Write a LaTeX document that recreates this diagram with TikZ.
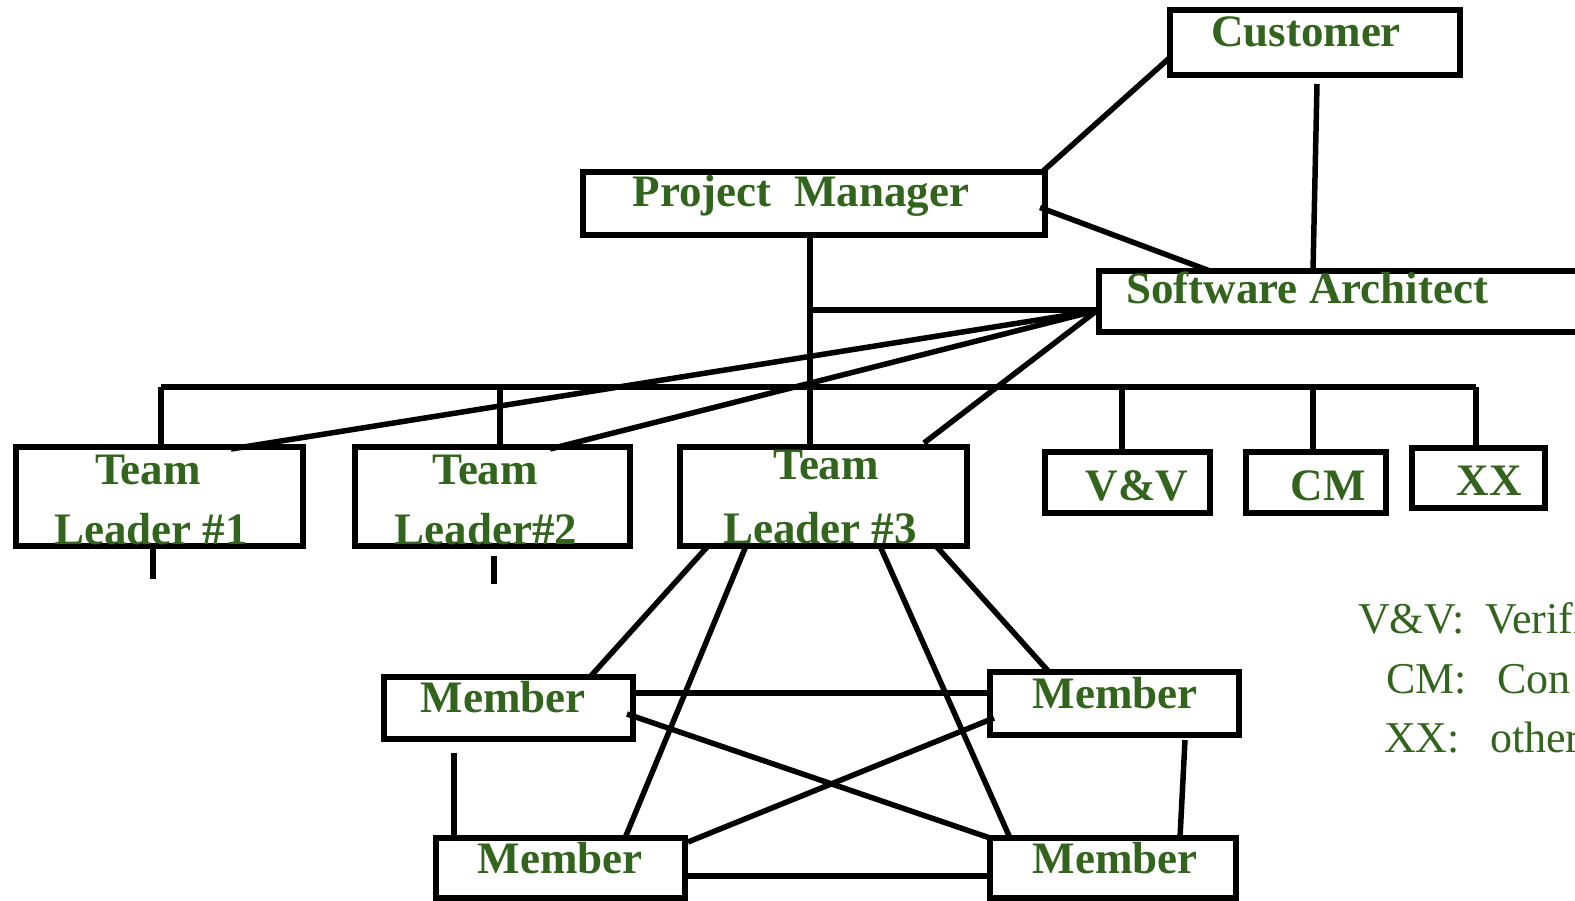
\documentclass[tikz,border=0pt]{standalone}
\usepackage{fontspec}
\setmainfont{Liberation Serif}
\usetikzlibrary{calc}
\definecolor{labelgreen}{RGB}{50,100,30}
\begin{document}
\begin{tikzpicture}[x=1pt,y=-1pt,
  box/.style={rectangle, draw=black, line width=6.5pt, fill=white, inner sep=0pt, outer sep=0pt},
  link/.style={draw=black, line width=5.5pt},
  title/.style={anchor=base, text=labelgreen, inner sep=0pt,
    font=\fontsize{45}{50}\selectfont\bfseries},
  legend/.style={anchor=base, text=labelgreen, inner sep=0pt,
    font=\fontsize{44}{50}\selectfont}]
\useasboundingbox (0,0) rectangle (1575,901);
\clip (0,0) rectangle (1575,901);

% boxes
\node[box, minimum width=290pt, minimum height=65pt] (cust) at (1315,42.5) {};
\node[box, minimum width=462pt, minimum height=63pt] (pm)   at (814,203.5) {};
\node[box, minimum width=521pt, minimum height=61pt] (sa)   at (1359.5,301.5) {};
\node[box, minimum width=287pt, minimum height=99pt] (tl1)  at (159.5,496.5) {};
\node[box, minimum width=275pt, minimum height=99pt] (tl2)  at (492.5,496.5) {};
\node[box, minimum width=287pt, minimum height=99pt] (tl3)  at (823.5,496.5) {};
\node[box, minimum width=165pt, minimum height=61pt] (vv)   at (1127.5,482.5) {};
\node[box, minimum width=140pt, minimum height=61pt] (cm)   at (1316,482.5) {};
\node[box, minimum width=133pt, minimum height=60pt] (xx)   at (1478.5,478) {};
\node[box, minimum width=249pt, minimum height=62pt] (m1)   at (508.5,708) {};
\node[box, minimum width=249pt, minimum height=63pt] (m2)   at (1114.5,703.5) {};
\node[box, minimum width=249pt, minimum height=60pt] (m3)   at (560.5,868) {};
\node[box, minimum width=246pt, minimum height=60pt] (m4)   at (1113,868) {};

% reporting lines at the top
\draw[link] ($(cust.west)+(0,15)$) -- ($(pm.north east)+(-3,0)$);
\draw[link] ($(cust.south)+(2,9)$) -- ($(sa.north west)+(214,0)$);
\draw[link] ($(pm.east)+(-5,4)$) -- ($(sa.north west)+(111,0)$);

% project manager trunk and team bus
\coordinate (branch) at (810,310);
\coordinate (busL) at (161,387);
\coordinate (busR) at (1476,387);
\coordinate (d2) at (500,387);
\coordinate (d4) at (1122,387);
\coordinate (d5) at (1313,387);
\draw[link] (pm.south -| branch) -- (tl3.north -| branch);
\draw[link] (branch) -- (branch -| sa.west);
\draw[link] (busL) -- (busR);
\draw[link] (busL) -- (busL |- tl1.north);
\draw[link] (d2) -- (d2 |- tl2.north);
\draw[link] (d4) -- (d4 |- vv.north);
\draw[link] (d5) -- (d5 |- cm.north);
\draw[link] (busR) -- (busR |- xx.north);

% architect to team leaders
\coordinate (saL) at ($(sa.west)+(-2,9)$);
\draw[link] (saL) -- ($(tl1.north west)+(215,2)$);
\draw[link] (saL) -- ($(tl2.north west)+(195,2)$);
\draw[link] (saL) -- ($(tl3.north west)+(244,-4)$);

% stubs below leaders 1 and 2
\draw[link] ($(tl1.south west)+(137,0)$) -- ++(0,33);
\draw[link] ($(tl2.south west)+(139,10)$) -- ++(0,28);

% team leader 3 to members
\draw[link] ($(tl3.south west)+(28,0)$)  -- ($(m1.north west)+(206,0)$);
\draw[link] ($(tl3.south west)+(66,0)$)  -- ($(m3.north west)+(189,0)$);
\draw[link] ($(tl3.south west)+(200,0)$) -- ($(m4.north west)+(20,0)$);
\draw[link] ($(tl3.south west)+(256,0)$) -- ($(m2.north west)+(59,0)$);

% links among members
\draw[link] ($(m1.east)+(0,-15)$) -- ($(m2.west)+(0,-10.5)$);
\draw[link] ($(m1.east)+(-6,6)$) -- (m4.north west);
\draw[link] ($(m2.west)+(4,14.5)$) -- ($(m3.north east)+(3,4)$);
\draw[link] ($(m1.south west)+(70,14)$) -- ($(m3.north west)+(18,0)$);
\draw[link] ($(m2.south west)+(195,5)$) -- ($(m4.north west)+(190,0)$);
\draw[link] ($(m3.east)+(0,8)$) -- ($(m4.west)+(0,8)$);

% box titles
\node[title] (tcust) at (1306,47) {Customer};
\node[title] (tpm)   at (801,207) {Project~~Manager};
\node[title, anchor=base west] (tsa) at (1126,304) {Software Architect};
\node[title] (tl1a) at (148,484) {Team};
\node[title] (tl1b) at (151,544) {Leader \#1};
\node[title] (tl2a) at (485,484) {Team};
\node[title] (tl2b) at (486,544) {Leader\#2};
\node[title] (tl3a) at (826,479) {Team};
\node[title] (tl3b) at (820,543) {Leader \#3};
\node[title] (tvv) at (1137,500) {V\&V};
\node[title] (tcm) at (1328,500) {CM};
\node[title] (txx) at (1489,495) {XX};
\node[title] (tm1) at (503,712) {Member};
\node[title] (tm2) at (1115,708) {Member};
\node[title] (tm3) at (560,873) {Member};
\node[title] (tm4) at (1115,873) {Member};

% abbreviation key
\node[legend, anchor=base east] (k1) at (1465,633) {V\&V:};
\node[legend, anchor=base west] (v1) at (1485,633) {Verifi};
\node[legend, anchor=base east] (k2) at (1467,693) {CM:};
\node[legend, anchor=base west] (v2) at (1497,693) {Con};
\node[legend, anchor=base east] (k3) at (1460,752) {XX:};
\node[legend, anchor=base west] (v3) at (1490,752) {other};
\end{tikzpicture}
\end{document}
